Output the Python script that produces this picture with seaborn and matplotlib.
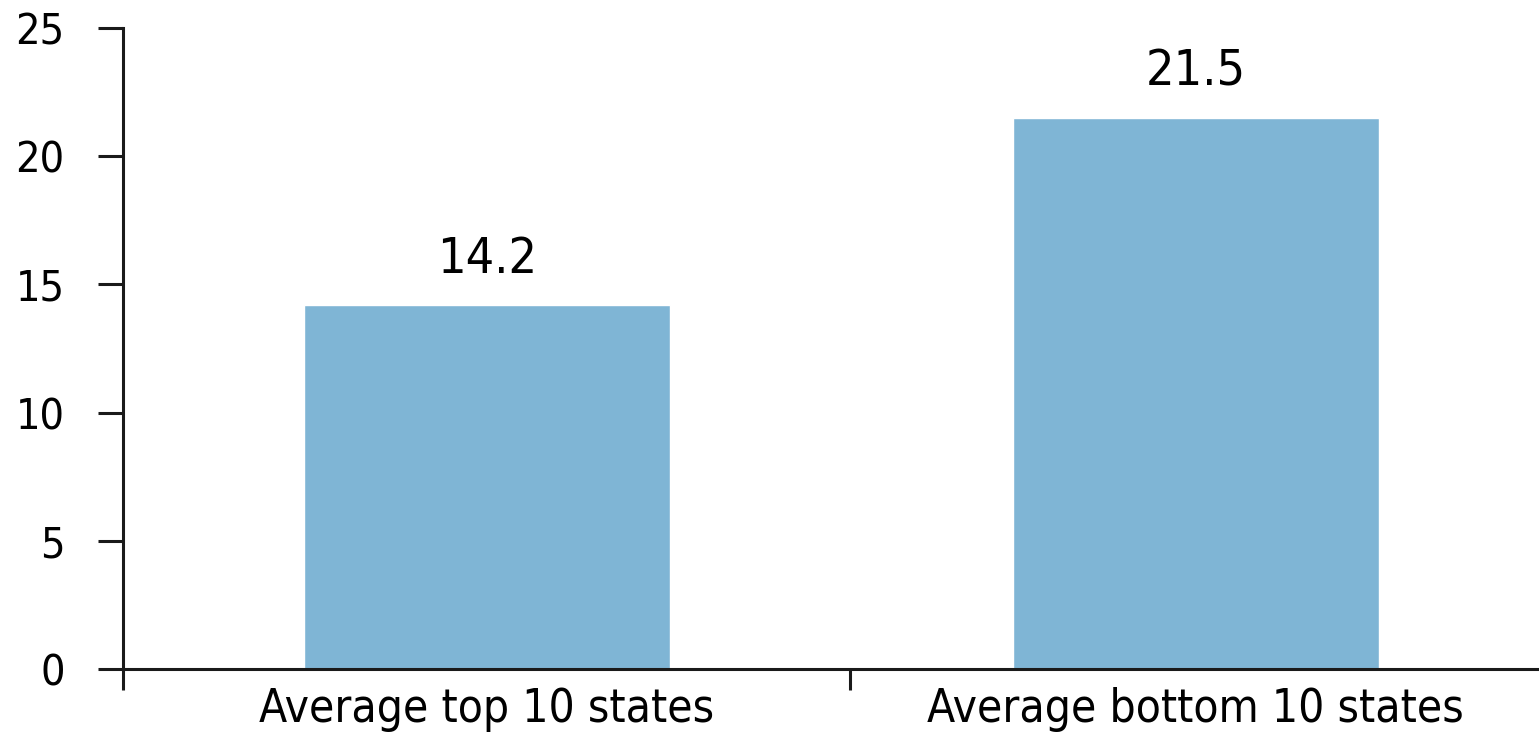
import matplotlib
matplotlib.use("Agg")
import matplotlib.pyplot as plt
import seaborn as sns
import pandas as pd

categories = ["Average top 10 states", "Average bottom 10 states"]
values = [14.2, 21.5]
value_labels = ["14.2", "21.5"]
y_ticks = [0, 5, 10, 15, 20, 25]

sns.set_theme(style="white")
plt.rcParams["font.family"] = ["Liberation Sans Narrow", "DejaVu Sans"]
plt.rcParams["font.stretch"] = "condensed"

df = pd.DataFrame({"group": categories, "value": values})

fig = plt.figure(figsize=(15.39, 7.51), dpi=100)
ax = fig.add_axes([0.0799, 0.109, 0.9201, 0.854])

sns.barplot(data=df, x="group", y="value", color="#7fb5d5", saturation=1,
            width=0.516, ax=ax)

ax.set_xlim(-0.513, 1.484)
ax.set_ylim(0, 25)
ax.set_yticks(y_ticks)
ax.set_xlabel("")
ax.set_ylabel("")

for s in ["top", "right"]:
    ax.spines[s].set_visible(False)
for s in ["left", "bottom"]:
    ax.spines[s].set_linewidth(2.2)
    ax.spines[s].set_color("#1a1a1a")

# category separators as minor ticks on the x axis
ax.set_xticks([-0.513, 0.513], minor=True)
ax.tick_params(axis="x", which="minor", bottom=True, length=15, width=2.2,
               color="#1a1a1a", direction="out")
ax.tick_params(axis="x", which="major", bottom=False, length=0, pad=13,
               labelsize=33, labelcolor="black")
ax.tick_params(axis="y", left=True, length=18, width=2.2, color="#1a1a1a",
               direction="out", pad=24, labelsize=31, labelcolor="black")

ax.bar_label(ax.containers[0], labels=value_labels, padding=16, fontsize=36,
             color="black")

fig.savefig("out.png", dpi=100)
